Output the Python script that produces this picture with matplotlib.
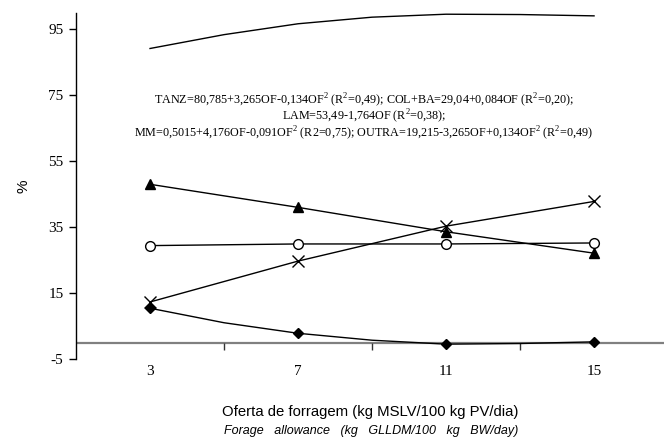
import matplotlib
matplotlib.use("Agg")
import matplotlib.pyplot as plt

# Forage allowance levels (kg GLLDM/100 kg BW/day)
oferta = [3, 7, 11, 15]

# Morphological composition (%) at each allowance level
lam = [48.0, 41.0, 33.6, 27.1]          # leaf lamina
col_ba = [29.4, 29.9, 29.9, 30.2]       # stem + sheath
mm = [12.3, 24.7, 35.3, 42.8]           # dead material
outra = [10.4, 2.8, -0.5, 0.2]          # other species

# Fitted curves read along the allowance axis
curve_x = [3, 5, 7, 9, 11, 13, 15]
tanz_curve = [89.2, 93.4, 96.7, 98.7, 99.6, 99.5, 99.1]
outra_curve = [10.4, 6.0, 2.8, 0.7, -0.5, -0.3, 0.2]

yticks = [-5, 15, 35, 55, 75, 95]
minor_marks = [5, 9, 13]

eq_lines = [
    "TANZ=80,785+3,265OF-0,134OF$^2$ (R$^2$=0,49); COL+BA=29,04+0,084OF (R$^2$=0,20);",
    "LAM=53,49-1,764OF (R$^2$=0,38);",
    "MM=0,5015+4,176OF-0,091OF$^2$ (R2=0,75); OUTRA=19,215-3,265OF+0,134OF$^2$ (R$^2$=0,49)",
]

serif = "Liberation Serif"
sans = "Liberation Sans"
plt.rcParams["mathtext.fontset"] = "custom"
plt.rcParams["mathtext.rm"] = serif

fig = plt.figure(figsize=(6.64, 4.37), dpi=100)
ax = fig.add_axes([0.1145, 0.1785, 0.8916, 0.792])
ax.set_xlim(1, 17)
ax.set_ylim(-5, 100)

for s in ["top", "right", "bottom"]:
    ax.spines[s].set_visible(False)
ax.spines["left"].set_linewidth(1.0)

# zero line acting as the category axis
ax.axhline(0, color="#808080", lw=1.6, zorder=1)
ax.plot(minor_marks, [0] * len(minor_marks), ls="none", marker=3,
        ms=5, mew=1.0, color="#333333", zorder=1)

kw = dict(color="black", lw=1.0, zorder=3, clip_on=False)
ax.plot(curve_x, tanz_curve, **kw)
ax.plot(curve_x, outra_curve, **kw)
ax.plot(oferta, outra, ls="none", marker="D", ms=5.5, mfc="black", mec="black", zorder=4)
ax.plot(oferta, lam, marker="^", ms=7, mfc="black", mec="black", **kw)
ax.plot(oferta, col_ba, marker="o", ms=7, mfc="white", mec="black", mew=1.0, **kw)
ax.plot(oferta, mm, marker="x", ms=8, mec="black", mew=1.0, **kw)

ax.set_xticks(oferta)
ax.set_xticklabels([str(v) for v in oferta], fontfamily=serif, fontsize=11)
ax.tick_params(axis="x", length=0, pad=4)
ax.set_yticks(yticks)
ax.set_yticklabels([str(v) for v in yticks], fontfamily=serif, fontsize=11)
ax.tick_params(axis="y", direction="out", length=5, width=1.0, pad=4)

ax.set_ylabel("%", fontfamily=sans, fontsize=11, labelpad=13)

eq_y = [73.6, 68.6, 63.4]
for txt, yy in zip(eq_lines, eq_y):
    ax.text(8.78, yy, txt, ha="center", va="center", fontfamily=serif, fontsize=8.7)

fig.text(370 / 664, 1 - 412 / 437, "Oferta de forragem (kg MSLV/100 kg PV/dia)",
         ha="center", va="center", fontfamily=sans, fontsize=10.7)
fig.text(371 / 664, 1 - 431 / 437, "Forage   allowance   (kg   GLLDM/100   kg   BW/day)",
         ha="center", va="center", fontfamily=sans, fontsize=9, style="italic")

fig.savefig("out.png", dpi=100)
